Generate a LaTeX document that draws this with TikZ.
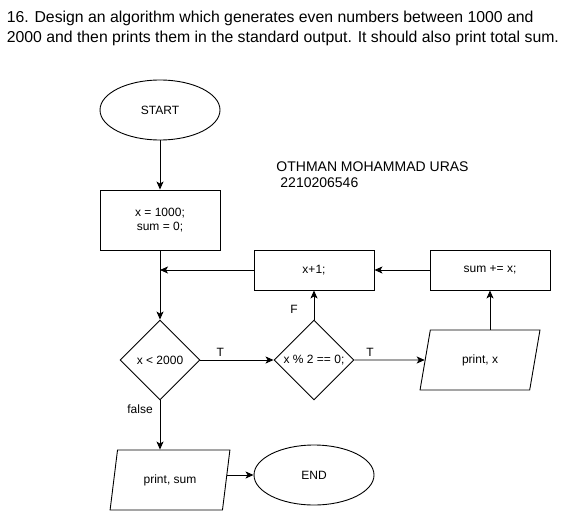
\documentclass[tikz,border=0pt]{standalone}
\usepackage{fontspec}
\setmainfont{Liberation Sans}
\usetikzlibrary{shapes.geometric,arrows.meta,positioning}

\begin{document}
\begin{tikzpicture}[x=1pt,y=-1pt,>={Stealth[length=8pt,width=7pt,inset=2pt]},line width=0.9pt,
  every node/.style = {font=\fontsize{12}{14}\selectfont},
  term/.style = {draw, ellipse, minimum width=120pt, minimum height=60pt, inner sep=0pt},
  procbox/.style = {draw, rectangle, minimum width=120pt, inner sep=0pt, align=center},
  decision/.style = {draw, diamond, aspect=1, minimum width=80pt, minimum height=80pt, inner sep=0pt},
  io/.style = {draw, trapezium, trapezium left angle=71.57, trapezium right angle=108.43,
    trapezium stretches=true, minimum width=120pt, minimum height=60pt, inner sep=0pt},]
\useasboundingbox (0,0) rectangle (585,511);
\node (T1) at (3,23)[anchor=base west,font=\fontsize{15.8}{19}\selectfont] {16. Design an algorithm which generates even numbers between 1000 and};
\node (T2) at (3,43)[anchor=base west,font=\fontsize{15.8}{19}\selectfont] {2000 and then prints them in the standard output. It should also print total sum.};
\node (N1) at (276,171)[anchor=base west,inner sep=0pt,font=\fontsize{14}{16}\selectfont] {OTHMAN MOHAMMAD URAS};
\node (N2) at (280,187)[anchor=base west,inner sep=0pt,font=\fontsize{14}{16}\selectfont] {2210206546};
\node (S) at (160,110)[term] {START};
\node (I) at (160,220)[procbox,minimum height=60pt] {x = 1000;\\sum = 0;};
\node (C) at (160,360)[decision] {x {\textless} 2000};
\node (E) at (314,360)[decision] {x \% 2 == 0;};
\node (PX) at (480,360)[io] {print, x};
\node (A) at (490,270)[procbox,minimum height=40pt] {sum += x;};
\node (X) at (314,270)[procbox,minimum height=40pt] {x+1;};
\node (PS) at (170,480)[io] {print, sum};
\node (Z) at (314,475)[term] {END};
\draw[->] (S) -- (I);
\draw[->] (I) -- (C);
\draw[->] (C) -- node[above,pos=0.27] {T} (E);
\draw[->] (E) -- node[above,pos=0.22] {T} (PX);
\draw[->] (E) -- node[pos=0.35,xshift=-20pt] {F} (X);
\draw[->] (A.south |- PX.north) -- (A);
\draw[->] (A) -- (X);
\draw[->] (X) -- (I.south |- X.west);
\draw[->] (C) -- node[pos=0.18,xshift=-20pt] {false} (C.south |- PS.north);
\draw[->] (PS.east |- Z.west) -- (Z);
\end{tikzpicture}
\end{document}
